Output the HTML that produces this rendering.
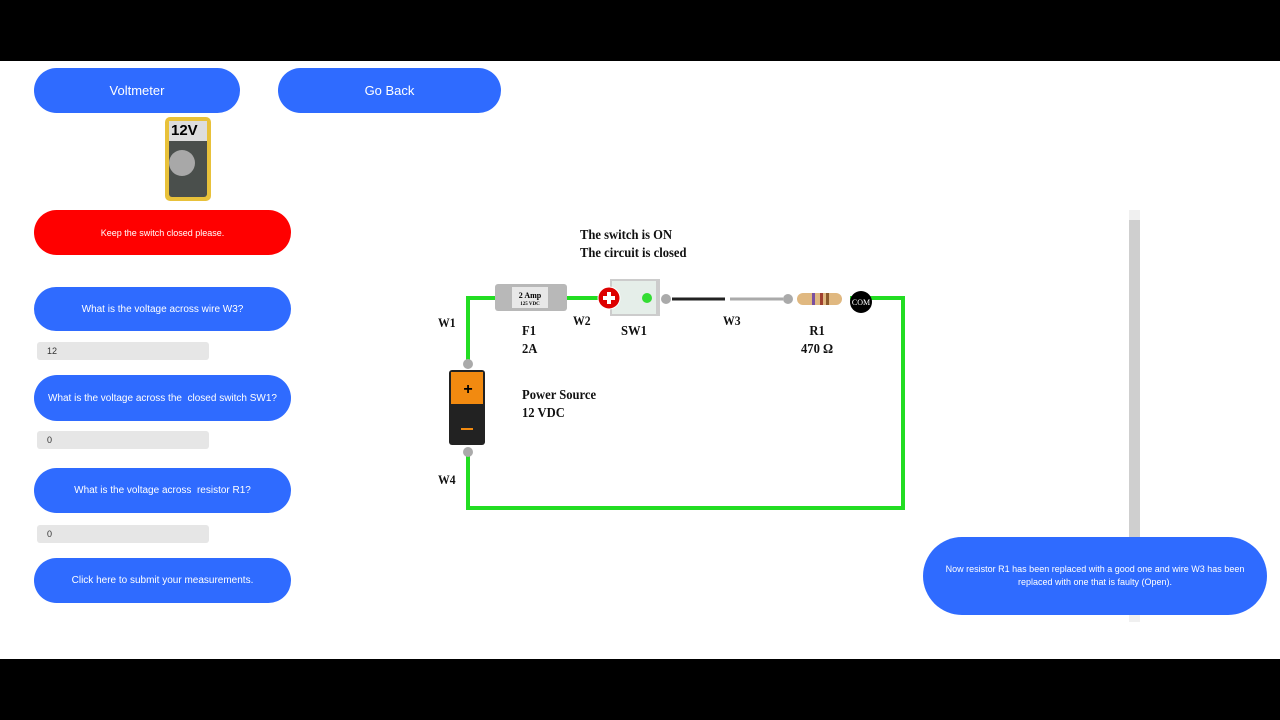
<!DOCTYPE html>
<html><head><style>
body{margin:0;width:1280px;height:720px;background:#fff;position:relative;overflow:hidden;font-family:"Liberation Sans",sans-serif}
.bar{position:absolute;left:0;width:1280px;background:#000}
.btn{position:absolute;background:#2f6bff;color:#fff;border-radius:24px;display:flex;align-items:center;justify-content:center;font-size:10px;text-align:center}
.inp{position:absolute;left:37px;width:172px;height:18px;background:#e6e6e6;border-radius:3px;font-size:9px;line-height:18px;padding-left:10px;box-sizing:border-box;color:#333}
.t{position:absolute;font-family:"Liberation Serif",serif;font-weight:bold;font-size:14px;color:#111;line-height:18px;transform-origin:0 0;transform:scaleX(0.9)}
</style></head><body>
<div class="bar" style="top:0;height:61px"></div>
<div class="bar" style="top:659px;height:61px"></div>
<div class="btn" style="left:34px;top:68px;width:206px;height:45px;font-size:13px">Voltmeter</div>
<div class="btn" style="left:278px;top:68px;width:223px;height:45px;font-size:13px">Go Back</div>
<div style="position:absolute;left:165px;top:117px;width:46px;height:84px;background:#e8c13a;border-radius:5px"></div>
<div style="position:absolute;left:169px;top:121px;width:38px;height:76px;background:#4a4f4c;border-radius:3px"></div>
<div style="position:absolute;left:169px;top:121px;width:38px;height:20px;background:#ddd;font-weight:bold;font-size:15px;line-height:20px;padding-left:2px;box-sizing:border-box">12V</div>
<div style="position:absolute;left:169px;top:150px;width:26px;height:26px;background:#a8a8a8;border-radius:50%"></div>
<div class="btn" style="left:34px;top:210px;width:257px;height:45px;background:#ff0000;font-size:9px">Keep the switch closed please.</div>
<div class="btn" style="left:34px;top:287px;width:257px;height:44px">What is the voltage across wire W3?</div>
<div class="inp" style="top:342px">12</div>
<div class="btn" style="left:34px;top:375px;width:257px;height:46px">What is the voltage across the &nbsp;closed switch SW1?</div>
<div class="inp" style="top:431px">0</div>
<div class="btn" style="left:34px;top:468px;width:257px;height:45px">What is the voltage across &nbsp;resistor R1?</div>
<div class="inp" style="top:525px">0</div>
<div class="btn" style="left:34px;top:558px;width:257px;height:45px">Click here to submit your measurements.</div>
<div style="position:absolute;left:1129px;top:210px;width:11px;height:412px;background:#cfcfcf"></div>
<div style="position:absolute;left:1129px;top:210px;width:11px;height:10px;background:#f0f0f0"></div>
<div style="position:absolute;left:1129px;top:612px;width:11px;height:10px;background:#f0f0f0"></div>
<div class="btn" style="left:923px;top:537px;width:344px;height:78px;border-radius:40px;font-size:9px;padding:0 14px;box-sizing:border-box;line-height:13px">Now resistor R1 has been replaced with a good one and wire W3 has been replaced with one that is faulty (Open).</div>
<svg style="position:absolute;left:0;top:0" width="1280" height="720">
<g fill="none" stroke="#22dd22" stroke-width="4">
<polyline points="468,360 468,298 495,298"/>
<line x1="567" y1="298" x2="600" y2="298"/>
<polyline points="850,298 903,298 903,508 468,508 468,452"/>
</g>
<rect x="495" y="284" width="72" height="27" rx="3" fill="#b8b8b8"/>
<rect x="512" y="287" width="36" height="21" fill="#e8e8e8"/>
<text x="530" y="298" font-size="8" font-weight="bold" text-anchor="middle" font-family="Liberation Serif">2 Amp</text>
<text x="530" y="305" font-size="5" font-weight="bold" text-anchor="middle" font-family="Liberation Serif">125 VDC</text>
<rect x="610" y="279" width="50" height="37" fill="#ccc"/>
<rect x="612" y="281" width="44" height="33" fill="#e5eee9"/>
<circle cx="647" cy="298" r="5" fill="#33dd33"/>
<circle cx="609" cy="298" r="11" fill="#d00" stroke="#fff" stroke-width="1"/>
<path d="M603 296h12v4h-12zM607 292h4v12h-4z" fill="#fff"/>
<circle cx="666" cy="299" r="5" fill="#aaa"/>
<line x1="672" y1="299" x2="725" y2="299" stroke="#222" stroke-width="3"/>
<line x1="730" y1="299" x2="783" y2="299" stroke="#aaa" stroke-width="3"/>
<circle cx="788" cy="299" r="5" fill="#aaa"/>
<rect x="797" y="293" width="45" height="12" rx="6" fill="#e0b880"/>
<rect x="812" y="293" width="3" height="12" fill="#7a4fa0"/><rect x="820" y="293" width="3" height="12" fill="#a04030"/><rect x="826" y="293" width="3" height="12" fill="#8b5a2b"/>
<circle cx="861" cy="302" r="11" fill="#000"/>
<text x="861" y="305" font-size="8" fill="#fff" text-anchor="middle" font-family="Liberation Serif">COM</text>
<circle cx="468" cy="364" r="5" fill="#aaa"/>
<circle cx="468" cy="452" r="5" fill="#aaa"/>
<rect x="449" y="370" width="36" height="75" rx="3" fill="#222"/>
<rect x="451" y="372" width="32" height="32" fill="#f28a10"/>
<text x="468" y="394" font-size="16" font-weight="bold" text-anchor="middle">+</text>
<rect x="461" y="428" width="12" height="2" fill="#f28a10"/>
</svg>
<div class="t" style="left:580px;top:227px">The switch is ON<br>The circuit is closed</div>
<div class="t" style="left:438px;top:314px;font-size:13px">W1</div>
<div class="t" style="left:573px;top:312px;font-size:13px">W2</div>
<div class="t" style="left:723px;top:312px;font-size:13px">W3</div>
<div class="t" style="left:438px;top:471px;font-size:13px">W4</div>
<div class="t" style="left:522px;top:323px">F1<br>2A</div>
<div class="t" style="left:621px;top:323px">SW1</div>
<div class="t" style="left:801px;top:323px;text-align:center">R1<br>470 Ω</div>
<div class="t" style="left:522px;top:387px">Power Source<br>12 VDC</div>
</body></html>
